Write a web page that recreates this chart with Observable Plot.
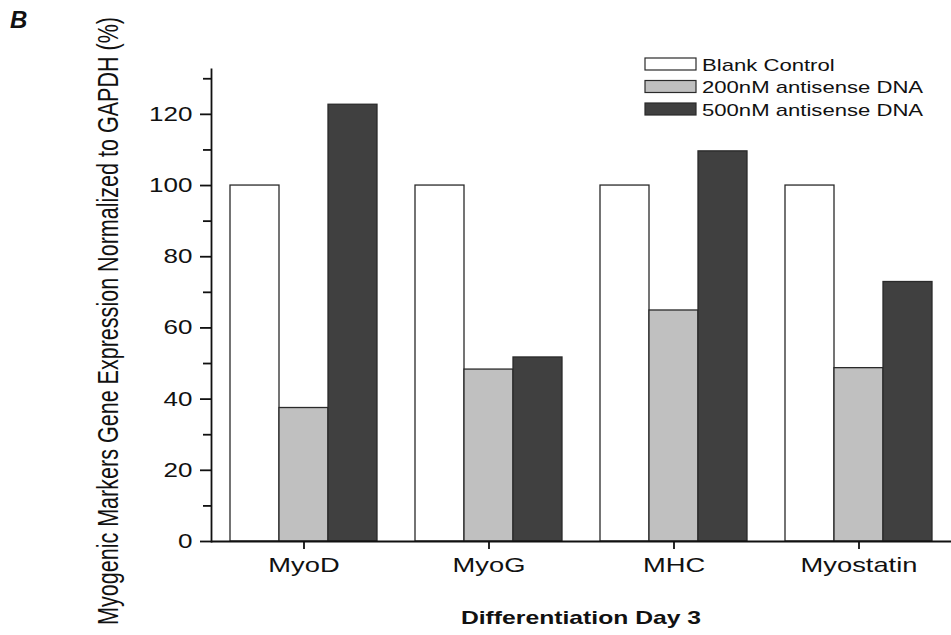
<!DOCTYPE html>
<html>
<head>
<meta charset="utf-8">
<script src="https://cdn.jsdelivr.net/npm/d3@7"></script>
<script src="https://cdn.jsdelivr.net/npm/@observablehq/plot@0.6"></script>
<style>
  html, body { margin: 0; padding: 0; background: white; }
</style>
</head>
<body>
<script>
// ---- data ----
const categories = ["MyoD", "MyoG", "MHC", "Myostatin"];
const series = ["Blank Control", "200nM antisense DNA", "500nM antisense DNA"];
const blankControl = [100, 100, 100, 100];
const antisense200 = [37.5, 48.3, 64.9, 48.7];
const antisense500 = [122.7, 51.7, 109.6, 72.9];
const yMajorTicks = [0, 20, 40, 60, 80, 100, 120];
const yMinorTicks = [10, 30, 50, 70, 90, 110, 130];
const yMax = 132.6;
const seriesFill = ["#ffffff", "#c0c0c0", "#404040"];
const yLabel = "Myogenic Markers Gene Expression Normalized to GAPDH (%)";
const xLabel = "Differentiation Day 3";
const panelLetter = "B";

const seriesValues = [blankControl, antisense200, antisense500];
const rows = [];
categories.forEach((c, i) => {
  series.forEach((s, j) => rows.push({category: c, series: s, value: seriesValues[j][i]}));
});

const FONT = "'Liberation Sans', Arial, Helvetica, sans-serif";
const INK = "#111";

const chart = Plot.plot({
  width: 951,
  height: 635,
  marginLeft: 211,
  marginRight: 0,
  marginTop: 69,
  marginBottom: 94,
  style: {fontFamily: FONT, color: INK, background: "white", overflow: "visible"},
  fx: {domain: categories, padding: 0, label: null},
  x: {domain: series, paddingInner: 0, paddingOuter: 0.37, axis: null},
  y: {domain: [0, yMax], axis: null},
  color: {domain: series, range: seriesFill},
  marks: [
    Plot.barY(rows, {fx: "category", x: "series", y: "value", fill: "series", stroke: "#2a2a2a", strokeWidth: 1.3}),
    Plot.axisY({ticks: yMajorTicks, tickSize: 11, tickPadding: 8, fontSize: 20, strokeWidth: 1.8, stroke: INK, label: null}),
    Plot.axisY({ticks: yMinorTicks, tickSize: 8, tickFormat: () => "", strokeWidth: 1.8, stroke: INK, label: null}),
    Plot.ruleY([0], {stroke: INK, strokeWidth: 1.8}),
    Plot.frame({facet: "super", anchor: "left", stroke: INK, strokeWidth: 1.8}),
    Plot.axisFx({anchor: "bottom", tickSize: 8, tickPadding: 8, fontSize: 21, strokeWidth: 1.8, stroke: INK, label: null})
  ]
});

document.body.append(chart);
const svg = d3.select(chart);
const color = chart.scale("color");

function addText(sel, opts) {
  const t = sel.append("text").text(opts.text)
    .style("font-family", FONT)
    .style("font-size", opts.size + "px")
    .style("font-weight", opts.weight || "normal")
    .style("font-style", opts.italic ? "italic" : "normal")
    .style("fill", INK)
    .attr("text-anchor", opts.anchor || "start");
  if (opts.x != null) t.attr("x", opts.x);
  if (opts.y != null) t.attr("y", opts.y);
  if (opts.transform) t.attr("transform", opts.transform);
  if (opts.noStretch) t.attr("data-nostretch", "1");
  return t;
}

// panel letter
addText(svg, {text: panelLetter, x: 10, y: 28, size: 24, weight: "bold", italic: true, noStretch: true});

// y label (rotated; glyphs widened across the axis like the reference)
addText(svg, {text: yLabel, transform: "translate(118,321) rotate(-90) scale(1,1.3)", anchor: "middle", size: 22, noStretch: true})
  .attr("textLength", 608).attr("lengthAdjust", "spacingAndGlyphs");

// x label
addText(svg, {text: xLabel, x: 581, y: 624, anchor: "middle", size: 19, weight: "bold"});

// legend
const lg = svg.append("g");
series.forEach((s, i) => {
  const top = 58 + i * 22.5;
  lg.append("rect")
    .attr("x", 645).attr("y", top).attr("width", 51).attr("height", 12)
    .attr("fill", color.apply(s)).attr("stroke", "#2a2a2a").attr("stroke-width", 1.2);
  addText(lg, {text: s, x: 702, y: top + 12.5, size: 17});
});

// horizontal stretch of text to match the reference's wide lettering
svg.selectAll("text").each(function () {
  if (this.getAttribute("data-nostretch")) return;
  const len = this.getComputedTextLength();
  if (len > 0) {
    this.setAttribute("textLength", (len * 1.3).toFixed(1));
    this.setAttribute("lengthAdjust", "spacingAndGlyphs");
  }
});
</script>
</body>
</html>
